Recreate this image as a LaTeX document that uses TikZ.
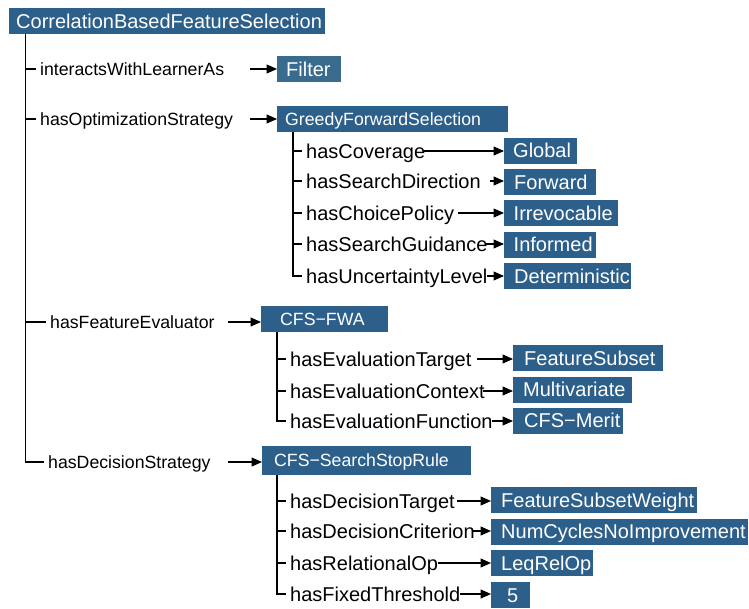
\documentclass[tikz,border=0pt]{standalone}
\usepackage{fontspec}
\setmainfont{Liberation Sans}
\usetikzlibrary{arrows.meta}

\definecolor{nodeblue}{HTML}{2D5F8B}
\definecolor{filterblue}{HTML}{386B8D}

% box content: fixed width, text set flush left after a given indent
\newcommand\padded[3]{\makebox[#1][l]{\hspace*{#2}#3}}

\tikzset{
  bigfont/.style={font=\fontsize{20}{24}\selectfont},
  smallfont/.style={font=\fontsize{17.7}{21}\selectfont},
  box/.style={fill=nodeblue, text=white, anchor=west, inner sep=0pt,
    minimum height=26pt, text depth=0pt},
  bigbox/.style={box, bigfont, text height=14.3pt},
  smallbox/.style={box, smallfont, text height=12.7pt},
  rel/.style={anchor=west, inner xsep=4pt, inner ysep=0pt, text depth=0pt},
  bigrel/.style={rel, bigfont, text height=14.3pt},
  smallrel/.style={rel, smallfont, text height=12.7pt},
  tree/.style={line width=1.2pt},
  link/.style={line width=1.2pt, -{Triangle[length=10.5pt,width=9pt]}},
}

\begin{document}
\begin{tikzpicture}[x=1pt, y=-1pt]
\useasboundingbox (0,0) rectangle (749,608);

% root concept
\node[bigbox] (root) at (9,21) {\padded{316pt}{7pt}{CorrelationBasedFeatureSelection}};

% first-level relations
\node[smallrel] (r1) at (36,69)  {interactsWithLearnerAs};
\node[smallrel] (r2) at (36,119) {hasOptimizationStrategy};
\node[smallrel] (r3) at (46,322) {hasFeatureEvaluator};
\node[smallrel] (r4) at (44,462) {hasDecisionStrategy};

% first-level targets
\node[bigbox, fill=filterblue] (filter) at (277,69) {\padded{64pt}{9pt}{Filter}};
\node[smallbox] (greedy) at (277,119) {\padded{231pt}{8pt}{GreedyForwardSelection}};
\node[smallbox] (fwa) at (261,319) {\padded{127pt}{19pt}{CFS−FWA}};
\node[smallbox, minimum height=29pt] (stop) at (262,460.5) {\padded{209pt}{12pt}{CFS−SearchStopRule}};

% trunk of the root
\coordinate (trunk) at ([xshift=16.5pt]root.south west);
\draw[tree] (trunk) |- (r4.west);
\foreach \r in {r1,r2,r3} \draw[tree] (trunk |- \r.west) -- (\r.west);

\coordinate (a1) at (250,69);
\coordinate (a2) at (250,119);
\coordinate (a3) at (228,322);
\coordinate (a4) at (228,462);
\draw[link] (a1) -- (a1 -| filter.west);
\draw[link] (a2) -- (a2 -| greedy.west);
\draw[link] (a3) -- (a3 -| fwa.west);
\draw[link] (a4) -- (a4 -| stop.west);

% GreedyForwardSelection
\node[bigrel] (g1) at (302,151) {hasCoverage};
\node[bigrel] (g2) at (302,181) {hasSearchDirection};
\node[bigrel] (g3) at (302,213) {hasChoicePolicy};
\node[bigrel] (g4) at (302,244) {hasSearchGuidance};
\node[bigrel] (g5) at (302,276) {hasUncertaintyLevel};

\node[bigbox] (global) at (504,150.5) {\padded{73pt}{9pt}{Global}};
\node[bigbox] (forward) at (504,182) {\padded{92pt}{10pt}{Forward}};
\node[bigbox] (irrev) at (504,213) {\padded{114pt}{9.5pt}{Irrevocable}};
\node[bigbox] (informed) at (504,244.5) {\padded{92pt}{9.5pt}{Informed}};
\node[bigbox] (determ) at (504,276) {\padded{127pt}{10pt}{Deterministic}};

\coordinate (gtrunk) at ([xshift=16pt]greedy.south west);
\draw[tree] (gtrunk) |- (g5.west);
\foreach \r in {g1,g2,g3,g4} \draw[tree] (gtrunk |- \r.west) -- (\r.west);

\coordinate (b1) at (424,151);
\coordinate (b2) at (490,181);
\coordinate (b3) at (458,213);
\coordinate (b4) at (486,244);
\coordinate (b5) at (487,276);
\draw[link] (b1) -- (b1 -| global.west);
\draw[link] (b2) -- (b2 -| forward.west);
\draw[link] (b3) -- (b3 -| irrev.west);
\draw[link] (b4) -- (b4 -| informed.west);
\draw[link] (b5) -- (b5 -| determ.west);

% CFS-FWA
\node[bigrel] (e1) at (286,359) {hasEvaluationTarget};
\node[bigrel] (e2) at (286,391) {hasEvaluationContext};
\node[bigrel] (e3) at (286,421) {hasEvaluationFunction};

\node[bigbox] (subset) at (513,358) {\padded{150pt}{11pt}{FeatureSubset}};
\node[bigbox] (multi) at (513,389.5) {\padded{119pt}{10pt}{Multivariate}};
\node[bigbox] (merit) at (513,420.5) {\padded{110pt}{11pt}{CFS−Merit}};

\coordinate (etrunk) at ([xshift=16pt]fwa.south west);
\draw[tree] (etrunk) |- (e3.west);
\foreach \r in {e1,e2} \draw[tree] (etrunk |- \r.west) -- (\r.west);

\coordinate (c1) at (477,359);
\coordinate (c2) at (483,391);
\coordinate (c3) at (492,421);
\draw[link] (c1) -- (c1 -| subset.west);
\draw[link] (c2) -- (c2 -| multi.west);
\draw[link] (c3) -- (c3 -| merit.west);

% CFS-SearchStopRule
\node[bigrel] (d1) at (286,501) {hasDecisionTarget};
\node[bigrel] (d2) at (286,531) {hasDecisionCriterion};
\node[bigrel] (d3) at (286,563) {hasRelationalOp};
\node[bigrel] (d4) at (286,594) {hasFixedThreshold};

\node[bigbox] (weight) at (491,500) {\padded{206pt}{10pt}{FeatureSubsetWeight}};
\node[bigbox] (cycles) at (491,531.5) {\padded{257pt}{10pt}{NumCyclesNoImprovement}};
\node[bigbox] (leq) at (491,563) {\padded{102pt}{10pt}{LeqRelOp}};
\node[bigbox] (five) at (491,595) {\padded{39pt}{16pt}{5}};

\coordinate (strunk) at ([xshift=15pt]stop.south west);
\draw[tree] (strunk) |- (d4.west);
\foreach \r in {d1,d2,d3} \draw[tree] (strunk |- \r.west) -- (\r.west);

\coordinate (f1) at (457,501);
\coordinate (f2) at (473,531);
\coordinate (f3) at (438,563);
\coordinate (f4) at (460,594);
\draw[link] (f1) -- (f1 -| weight.west);
\draw[link] (f2) -- (f2 -| cycles.west);
\draw[link] (f3) -- (f3 -| leq.west);
\draw[link] (f4) -- (f4 -| five.west);
\end{tikzpicture}
\end{document}
